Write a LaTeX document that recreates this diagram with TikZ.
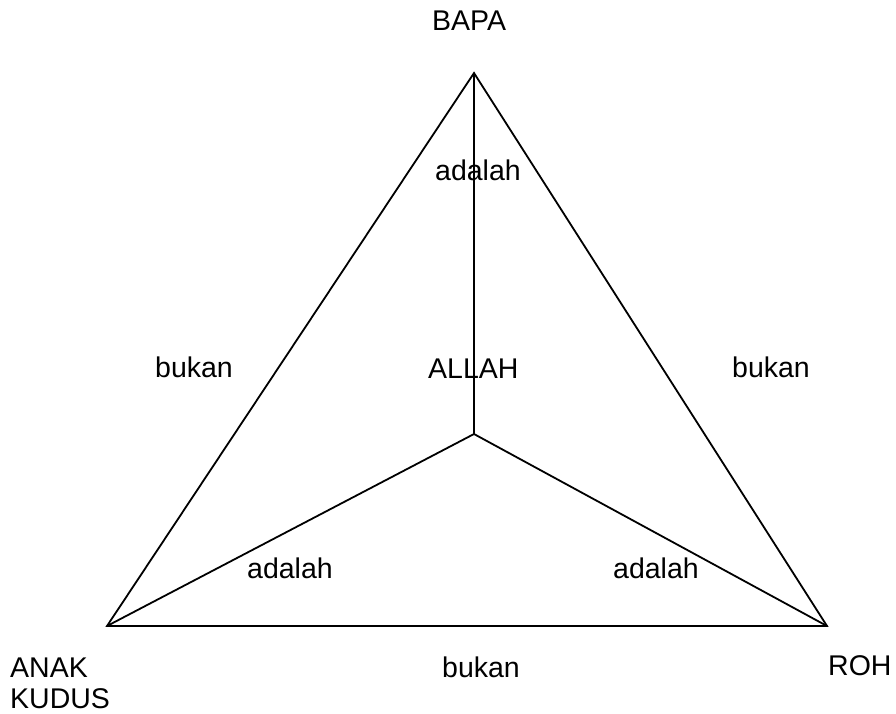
\documentclass[tikz,border=0pt]{standalone}
\usepackage{fontspec}
\setmainfont{Liberation Sans}
\begin{document}
\begin{tikzpicture}[x=1pt,y=-1pt,
  lbl/.style={inner sep=0pt,anchor=base west,font=\fontsize{28.5}{33}\selectfont},
  edge/.style={line width=1.8pt}]
\useasboundingbox (0,0) rectangle (896,713);
\coordinate (T) at (474,73);
\coordinate (BL) at (107,626);
\coordinate (BR) at (827,626);
\coordinate (C) at (474,434);
\draw[edge] (T) -- (BL) -- (BR) -- cycle;
\draw[edge] (T) -- (C);
\draw[edge] (C) -- (BL);
\draw[edge] (C) -- (BR);
\node[lbl] (bapa) at (432,30) {BAPA};
\node[lbl] (adtop) at (435,180) {adalah};
\node[lbl] (allah) at (428,378) {ALLAH};
\node[lbl] (bukl) at (155,377) {bukan};
\node[lbl] (bukr) at (732,377) {bukan};
\node[lbl] (adbl) at (247,578) {adalah};
\node[lbl] (adbr) at (613,578) {adalah};
\node[lbl] (anak) at (10,677) {ANAK};
\node[lbl] (kudus) at (10,708) {KUDUS};
\node[lbl] (bukb) at (442,677) {bukan};
\node[lbl] (roh) at (828,675) {ROH};
\end{tikzpicture}
\end{document}
